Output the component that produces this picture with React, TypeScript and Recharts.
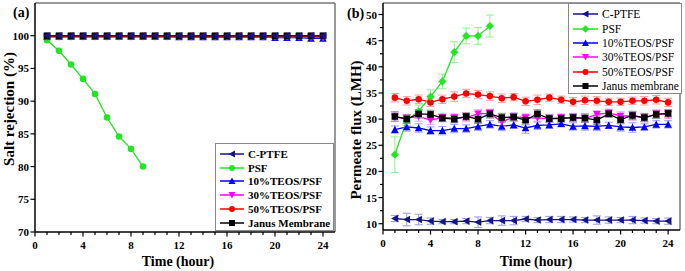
import { LineChart, Line, XAxis, YAxis, ErrorBar, Legend, ReferenceLine } from 'recharts';

const HOURS = [1, 2, 3, 4, 5, 6, 7, 8, 9, 10, 11, 12, 13, 14, 15, 16, 17, 18, 19, 20, 21, 22, 23, 24];
const X_TICKS = [0, 1, 2, 3, 4, 5, 6, 7, 8, 9, 10, 11, 12, 13, 14, 15, 16, 17, 18, 19, 20, 21, 22, 23, 24];

// (a) salt rejection (%)
const A_CPTFE = [100, 100, 100, 100, 100, 100, 100, 100, 100, 100, 100, 100, 100, 100, 100, 100, 100, 100, 100, 100, 100, 100, 100, 100];
const A_PSF = [99.3, 97.7, 95.6, 93.4, 91.1, 87.5, 84.6, 82.7, 80.0];
const A_T10 = [99.9, 99.9, 99.9, 99.9, 99.9, 99.9, 99.9, 99.9, 99.9, 99.9, 99.9, 99.8, 99.8, 99.8, 99.8, 99.8, 99.8, 99.8, 99.8, 99.7, 99.7, 99.7, 99.6, 99.6];
const A_T30 = [99.8, 99.8, 99.8, 99.8, 99.8, 99.8, 99.8, 99.8, 99.8, 99.8, 99.8, 99.8, 99.8, 99.8, 99.8, 99.8, 99.8, 99.8, 99.8, 99.8, 99.8, 99.8, 99.7, 99.7];
const A_T50 = [99.9, 99.9, 99.9, 99.9, 99.9, 99.9, 99.9, 99.9, 99.9, 99.9, 99.9, 99.9, 99.9, 99.9, 99.9, 99.9, 99.9, 99.9, 99.9, 99.9, 99.9, 99.9, 99.9, 99.9];
const A_JANUS = [100, 100, 100, 100, 100, 100, 100, 100, 100, 100, 100, 100, 100, 100, 100, 100, 100, 100, 100, 100, 100, 100, 100, 100];
const A_Y_TICKS = [70, 75, 80, 85, 90, 95, 100];

// (b) permeate flux (LMH)
const B_CPTFE = [11.0, 10.8, 10.8, 10.5, 10.4, 10.4, 10.5, 10.3, 10.6, 10.6, 10.6, 10.9, 10.7, 10.8, 10.8, 10.8, 10.7, 10.7, 10.7, 10.7, 10.7, 10.6, 10.5, 10.5];
const B_CPTFE_ERR = [0.6, 1.2, 1.0, 0.6, 0.4, 0.4, 0.5, 1.0, 0.6, 0.9, 0.8, 0.5, 0.5, 0.6, 0.6, 0.5, 0.5, 0.8, 0.6, 0.5, 0.7, 0.5, 0.5, 0.6];
const B_PSF = [23.2, 29.8, 31.5, 34.3, 37.2, 42.8, 45.9, 45.9, 47.8];
const B_PSF_ERR = [3.4, 1.0, 1.2, 1.3, 1.4, 2.0, 1.5, 1.6, 2.1];
const B_T10 = [28.0, 28.5, 28.3, 27.8, 27.8, 28.2, 28.2, 28.6, 29.0, 28.6, 28.9, 28.3, 28.8, 28.9, 29.1, 28.6, 28.7, 28.6, 28.8, 28.5, 28.4, 28.5, 29.0, 29.0];
const B_T10_ERR = [0.7, 0.8, 0.8, 0.7, 0.8, 0.8, 0.7, 0.8, 0.7, 0.8, 0.7, 1.0, 0.8, 0.7, 0.6, 0.7, 0.8, 0.8, 0.6, 0.8, 0.9, 0.6, 0.7, 0.7];
const B_T30 = [30.4, 30.2, 30.5, 29.8, 30.3, 30.3, 30.3, 31.0, 31.1, 29.5, 30.4, 30.3, 30.2, 30.1, 30.3, 30.3, 30.1, 30.9, 31.2, 30.6, 30.6, 30.2, 31.0, 30.9];
const B_T30_ERR = [0.8, 0.7, 0.9, 0.8, 0.7, 0.7, 0.8, 0.8, 0.8, 0.9, 0.8, 0.7, 0.8, 0.8, 0.7, 0.8, 0.7, 0.7, 0.7, 0.8, 0.8, 0.7, 0.7, 0.8];
const B_T50 = [34.1, 33.5, 33.8, 33.2, 33.8, 34.3, 34.9, 34.7, 34.4, 34.0, 34.2, 33.4, 33.7, 34.1, 33.7, 33.3, 33.6, 33.5, 33.3, 33.3, 33.5, 33.5, 33.7, 33.2];
const B_T50_ERR = [0.8, 0.8, 0.8, 0.8, 0.8, 0.9, 0.8, 0.8, 0.8, 0.8, 0.7, 0.8, 0.9, 0.7, 0.7, 0.8, 0.8, 0.8, 0.7, 0.7, 0.7, 0.8, 0.8, 0.8];
const B_JANUS = [30.5, 30.0, 31.0, 30.9, 30.2, 30.0, 30.5, 30.0, 31.0, 30.3, 30.4, 29.8, 31.0, 30.1, 30.1, 30.3, 30.2, 29.8, 31.0, 29.9, 30.7, 30.3, 30.9, 31.1];
const B_JANUS_ERR = [0.9, 0.8, 0.8, 0.8, 0.7, 0.7, 0.7, 0.8, 0.8, 0.8, 0.7, 0.9, 0.8, 0.7, 0.7, 0.7, 0.8, 0.8, 0.6, 0.8, 0.8, 0.8, 0.8, 0.7];
const B_Y_TICKS = [10, 12.5, 15, 17.5, 20, 22.5, 25, 27.5, 30, 32.5, 35, 37.5, 40, 42.5, 45, 47.5, 50];

const FONT = '"Liberation Serif", "Times New Roman", serif';

const C = {
  cptfe: '#14148a',
  psf: '#22e622',
  t10: '#0000ff',
  t30: '#ff00ff',
  t50: '#ff0000',
  janus: '#000000',
};
const ERR = {
  cptfe: '#9b9bd6',
  psf: '#8cf08c',
  t10: '#9b9bff',
  t30: '#ff9bff',
  t50: '#ff9b9b',
  janus: '#8a8a8a',
};

const Marker = ({ cx, cy, shape, color, r = 3.3 }: any) => {
  if (cx == null || cy == null) return null;
  switch (shape) {
    case 'square':
      return <rect x={cx - r} y={cy - r} width={r * 2} height={r * 2} fill={color} />;
    case 'up':
      return <polygon points={`${cx},${cy - r - 0.5} ${cx + r + 0.5},${cy + r} ${cx - r - 0.5},${cy + r}`} fill={color} />;
    case 'down':
      return <polygon points={`${cx},${cy + r + 0.5} ${cx + r + 0.5},${cy - r} ${cx - r - 0.5},${cy - r}`} fill={color} />;
    case 'left':
      return <polygon points={`${cx - r - 0.5},${cy} ${cx + r},${cy - r - 0.5} ${cx + r},${cy + r + 0.5}`} fill={color} />;
    case 'diamond':
      return <polygon points={`${cx},${cy - r - 0.8} ${cx + r + 0.8},${cy} ${cx},${cy + r + 0.8} ${cx - r - 0.8},${cy}`} fill={color} />;
    default:
      return <circle cx={cx} cy={cy} r={r} fill={color} />;
  }
};

const dotFor = (shape: string, color: string) => (p: any) => (
  <g key={`d-${p.index}`}>
    <Marker cx={p.cx} cy={p.cy} shape={shape} color={color} />
  </g>
);

const XTick = ({ x, y, payload }: any) => {
  const major = payload.value % 4 === 0;
  return (
    <g>
      <line x1={x} x2={x} y1={y} y2={y + (major ? 4.5 : 3)} stroke="#000" strokeWidth={1.2} />
      {major && (
        <text x={x} y={y + 17} textAnchor="middle" fontFamily={FONT} fontWeight="bold" fontSize={11} fill="#000">
          {payload.value}
        </text>
      )}
    </g>
  );
};

const YTick = ({ x, y, payload }: any) => {
  const major = payload.value % 5 === 0;
  return (
    <g>
      <line x1={x} x2={x - (major ? 4.5 : 3)} y1={y} y2={y} stroke="#000" strokeWidth={1.2} />
      {major && (
        <text x={x - 6} y={y + 4} textAnchor="end" fontFamily={FONT} fontWeight="bold" fontSize={11} fill="#000">
          {payload.value}
        </text>
      )}
    </g>
  );
};

type Item = { name: string; color: string; shape: string };

const makeLegend = (items: Item[], bold: boolean, rowH: number, lineW: number, fontSize: number) => () => (
  <div
    style={{
      border: '1px solid #888',
      background: '#fff',
      padding: '3px 2px 3px 4px',
      boxSizing: 'border-box',
      width: '100%',
      height: '100%',
      overflow: 'hidden',
      fontFamily: FONT,
      fontWeight: bold ? 'bold' : 'normal',
      fontSize,
      color: '#000',
    }}
  >
    {items.map((it) => (
      <div key={it.name} style={{ display: 'flex', alignItems: 'center', height: rowH, whiteSpace: 'nowrap' }}>
        <svg width={lineW + 3} height={10} style={{ marginRight: 1, flex: 'none' }}>
          <line x1={0} x2={lineW} y1={5} y2={5} stroke={it.color} strokeWidth={1.5} />
          <Marker cx={lineW / 2} cy={5} shape={it.shape} color={it.color} r={3} />
        </svg>
        <span>{it.name}</span>
      </div>
    ))}
  </div>
);

const LEGEND_A: Item[] = [
  { name: 'C-PTFE', color: C.cptfe, shape: 'left' },
  { name: 'PSF', color: C.psf, shape: 'circle' },
  { name: '10%TEOS/PSF', color: C.t10, shape: 'up' },
  { name: '30%TEOS/PSF', color: C.t30, shape: 'down' },
  { name: '50%TEOS/PSF', color: C.t50, shape: 'circle' },
  { name: 'Janus Membrane', color: C.janus, shape: 'square' },
];

const LEGEND_B: Item[] = [
  { name: 'C-PTFE', color: C.cptfe, shape: 'left' },
  { name: 'PSF', color: C.psf, shape: 'diamond' },
  { name: '10%TEOS/PSF', color: C.t10, shape: 'up' },
  { name: '30%TEOS/PSF', color: C.t30, shape: 'down' },
  { name: '50%TEOS/PSF', color: C.t50, shape: 'circle' },
  { name: 'Janus membrane', color: C.janus, shape: 'square' },
];

const dataA = HOURS.map((h, i) => ({
  h,
  cptfe: A_CPTFE[i],
  psf: A_PSF[i] ?? null,
  t10: A_T10[i],
  t30: A_T30[i],
  t50: A_T50[i],
  janus: A_JANUS[i],
}));

const dataB = HOURS.map((h, i) => ({
  h,
  cptfe: B_CPTFE[i],
  cptfeErr: B_CPTFE_ERR[i],
  psf: B_PSF[i] ?? null,
  psfErr: B_PSF_ERR[i] ?? 0,
  t10: B_T10[i],
  t10Err: B_T10_ERR[i],
  t30: B_T30[i],
  t30Err: B_T30_ERR[i],
  t50: B_T50[i],
  t50Err: B_T50_ERR[i],
  janus: B_JANUS[i],
  janusErr: B_JANUS_ERR[i],
}));

const titleStyle = { fontFamily: FONT, fontWeight: 'bold' as const, fill: '#000' };

export default function App() {
  return (
    <div style={{ position: 'fixed', left: 0, top: 0, width: 685, height: 271, background: '#fff' }}>
      <div style={{ position: 'absolute', left: 0, top: 0 }}>
        <LineChart width={340} height={271} data={dataA} margin={{ top: 3, right: 5, left: 0, bottom: 0 }}>
          <XAxis
            dataKey="h"
            type="number"
            domain={[0, 25]}
            allowDataOverflow
            ticks={X_TICKS}
            interval={0}
            height={39}
            tickSize={0}
            tickMargin={0}
            tick={<XTick />}
            axisLine={{ stroke: '#000', strokeWidth: 1.5 }}
          />
          <YAxis
            type="number"
            domain={[70, 105]}
            allowDataOverflow
            ticks={A_Y_TICKS}
            interval={0}
            width={35}
            tickSize={0}
            tickMargin={0}
            tick={<YTick />}
            axisLine={{ stroke: '#000', strokeWidth: 1.5 }}
          />
          <ReferenceLine y={105} stroke="#777" strokeWidth={1.5} />
          <ReferenceLine x={25} stroke="#777" strokeWidth={1.5} />
          <Line dataKey="psf" stroke={C.psf} strokeWidth={1.3} dot={dotFor('circle', C.psf)} isAnimationActive={false} />
          <Line dataKey="t10" stroke={C.t10} strokeWidth={1.3} dot={dotFor('up', C.t10)} isAnimationActive={false} />
          <Line dataKey="t30" stroke={C.t30} strokeWidth={1.3} dot={dotFor('down', C.t30)} isAnimationActive={false} />
          <Line dataKey="t50" stroke={C.t50} strokeWidth={1.3} dot={dotFor('circle', C.t50)} isAnimationActive={false} />
          <Line dataKey="janus" stroke={C.janus} strokeWidth={1.3} dot={dotFor('square', C.janus)} isAnimationActive={false} />
          <Line dataKey="cptfe" stroke={C.cptfe} strokeWidth={1.3} dot={dotFor('left', C.cptfe)} isAnimationActive={false} />
          <Legend
            layout="vertical"
            align="center"
            verticalAlign="middle"
            content={makeLegend(LEGEND_A, true, 13.8, 24, 11)}
            wrapperStyle={{ left: 215, top: 143, width: 119, height: 88 }}
          />
        </LineChart>
      </div>
      <div style={{ position: 'absolute', left: 340, top: 0 }}>
        <LineChart width={345} height={271} data={dataB} margin={{ top: 3, right: 5, left: 0, bottom: 0 }}>
          <XAxis
            dataKey="h"
            type="number"
            domain={[0, 25]}
            allowDataOverflow
            ticks={X_TICKS}
            interval={0}
            height={41}
            tickSize={0}
            tickMargin={0}
            tick={<XTick />}
            axisLine={{ stroke: '#000', strokeWidth: 1.5 }}
          />
          <YAxis
            type="number"
            domain={[8.8, 52.2]}
            allowDataOverflow
            ticks={B_Y_TICKS}
            interval={0}
            width={43}
            tickSize={0}
            tickMargin={0}
            tick={<YTick />}
            axisLine={{ stroke: '#000', strokeWidth: 1.5 }}
          />
          <ReferenceLine y={52.2} stroke="#777" strokeWidth={1.5} />
          <ReferenceLine x={25} stroke="#777" strokeWidth={1.5} />
          <Line dataKey="cptfe" stroke={C.cptfe} strokeWidth={1.3} dot={dotFor('left', C.cptfe)} isAnimationActive={false}>
            <ErrorBar dataKey="cptfeErr" width={4} stroke={ERR.cptfe} strokeWidth={1} />
          </Line>
          <Line dataKey="t10" stroke={C.t10} strokeWidth={1.3} dot={dotFor('up', C.t10)} isAnimationActive={false}>
            <ErrorBar dataKey="t10Err" width={4} stroke={ERR.t10} strokeWidth={1} />
          </Line>
          <Line dataKey="t30" stroke={C.t30} strokeWidth={1.3} dot={dotFor('down', C.t30)} isAnimationActive={false}>
            <ErrorBar dataKey="t30Err" width={4} stroke={ERR.t30} strokeWidth={1} />
          </Line>
          <Line dataKey="t50" stroke={C.t50} strokeWidth={1.3} dot={dotFor('circle', C.t50)} isAnimationActive={false}>
            <ErrorBar dataKey="t50Err" width={4} stroke={ERR.t50} strokeWidth={1} />
          </Line>
          <Line dataKey="psf" stroke={C.psf} strokeWidth={1.3} dot={dotFor('diamond', C.psf)} isAnimationActive={false}>
            <ErrorBar dataKey="psfErr" width={4} stroke={ERR.psf} strokeWidth={1} />
          </Line>
          <Line dataKey="janus" stroke={C.janus} strokeWidth={1.3} dot={dotFor('square', C.janus)} isAnimationActive={false}>
            <ErrorBar dataKey="janusErr" width={4} stroke={ERR.janus} strokeWidth={1} />
          </Line>
          <Legend
            layout="vertical"
            align="center"
            verticalAlign="middle"
            content={makeLegend(LEGEND_B, false, 14.4, 25, 11.5)}
            wrapperStyle={{ left: 228, top: 3, width: 114, height: 91 }}
          />
        </LineChart>
      </div>
      <svg width={685} height={271} style={{ position: 'absolute', left: 0, top: 0, pointerEvents: 'none' }}>
        <text x={13} y={17} {...titleStyle} fontSize={14}>(a)</text>
        <text x={347} y={18} {...titleStyle} fontSize={14}>(b)</text>
        <text x={14} y={109} transform="rotate(-90 14 109)" textAnchor="middle" {...titleStyle} fontSize={15}>
          Salt rejection (%)
        </text>
        <text x={361} y={130} transform="rotate(-90 361 130)" textAnchor="middle" {...titleStyle} fontSize={15}>
          Permeate flux (LMH)
        </text>
        <text x={178} y={266} textAnchor="middle" {...titleStyle} fontSize={14}>Time (hour)</text>
        <text x={536} y={266} textAnchor="middle" {...titleStyle} fontSize={14}>Time (hour)</text>
      </svg>
    </div>
  );
}
